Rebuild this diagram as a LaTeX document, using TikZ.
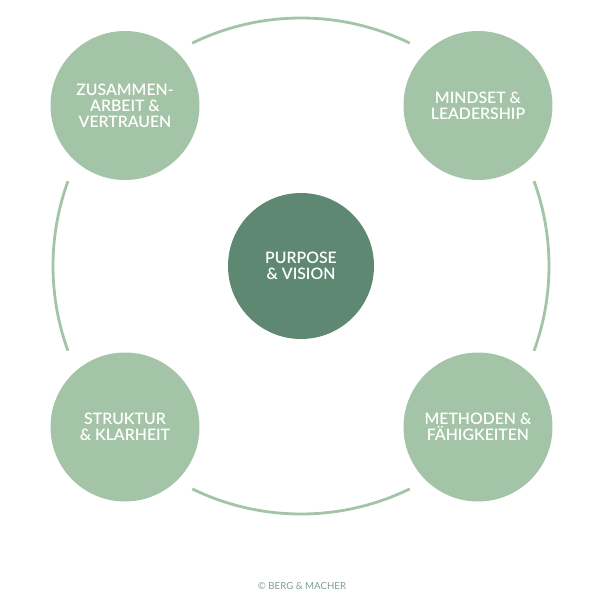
\documentclass[tikz,border=0pt]{standalone}
\usepackage{fontspec}
\setmainfont{Lato}[BoldFont={Lato Semibold}]
\usetikzlibrary{positioning}
\definecolor{sage}{HTML}{A3C4A6}
\definecolor{pine}{HTML}{5F8873}
\definecolor{footgrey}{HTML}{7F9F8C}

\begin{document}
\begin{tikzpicture}[on grid,
    pillar/.style={circle, fill=sage, minimum size=2.98cm, inner sep=0pt,
                   text=white, align=center,
                   font=\bfseries\fontsize{9}{9}\selectfont},
    core/.style={pillar, fill=pine, minimum size=2.92cm},
    ring/.style={draw=sage, line width=1.6pt}]
    \useasboundingbox (-6.02,-6.68) rectangle (5.98,5.32);
    \node (vision) [core] at (0,0) {PURPOSE\\\& VISION};
    \node (teamwork) [pillar, above left=3.21cm and 3.52cm of vision]
          {ZUSAMMEN-\\ARBEIT \&\\VERTRAUEN};
    \node (mindset) [pillar, above right=3.21cm and 3.54cm of vision]
          {MINDSET \&\\LEADERSHIP};
    \node (structure) [pillar, below left=3.22cm and 3.52cm of vision]
          {STRUKTUR\\\& KLARHEIT};
    \node (methods) [pillar, below right=3.22cm and 3.54cm of vision]
          {METHODEN \&\\FÄHIGKEITEN};
    % ring between the four pillars
    \draw [ring] (64:4.96) arc (64:116:4.96);
    \draw [ring] (160:4.96) arc (160:200:4.96);
    \draw [ring] (244:4.96) arc (244:296:4.96);
    \draw [ring] (-20:4.96) arc (-20:20:4.96);
    \node (credit) [text=footgrey, font=\fontsize{5.5}{6}\selectfont]
          at (0.02,-6.4) {© BERG \& MACHER};
\end{tikzpicture}
\end{document}
